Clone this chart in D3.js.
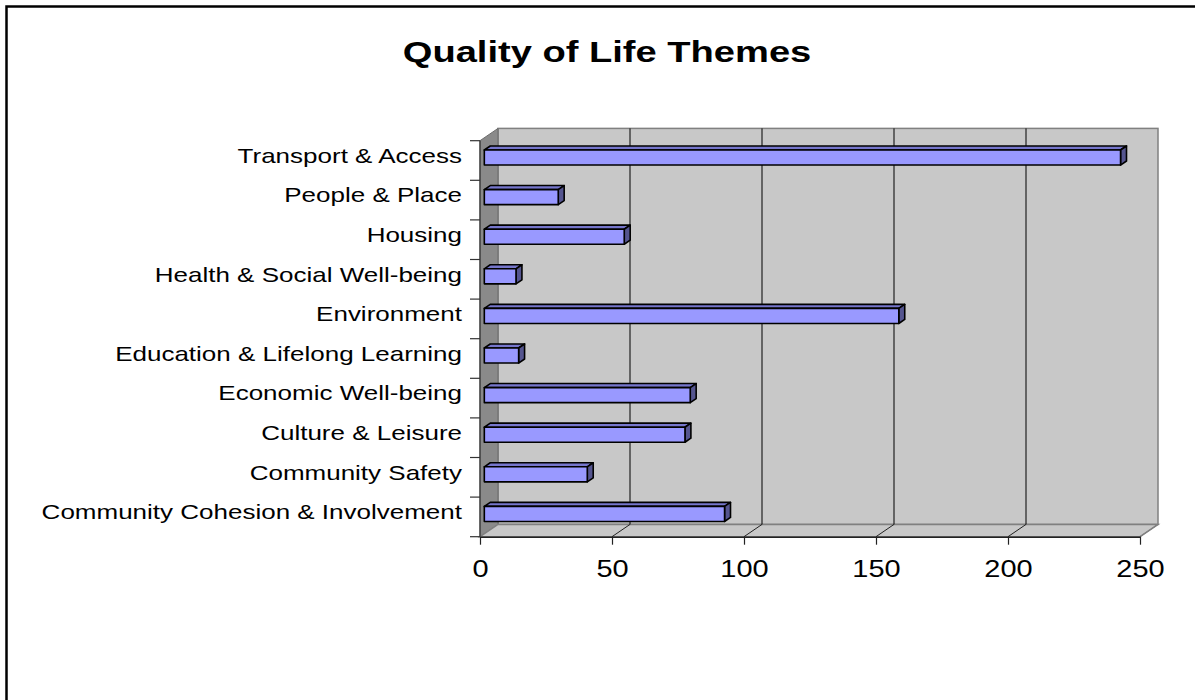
<!DOCTYPE html>
<html>
<head>
<meta charset="utf-8">
<script src="https://cdn.jsdelivr.net/npm/d3@7/dist/d3.min.js"></script>
<style>
  html, body { margin: 0; padding: 0; background: #fff; }
  svg { display: block; font-family: Arial, "Liberation Sans", sans-serif; }
</style>
</head>
<body>
<svg id="chart" width="1195" height="700"></svg>
<script>
// ---- data ----
const title = "Quality of Life Themes";
const categories = [
  "Community Cohesion & Involvement",
  "Community Safety",
  "Culture & Leisure",
  "Economic Well-being",
  "Education & Lifelong Learning",
  "Environment",
  "Health & Social Well-being",
  "Housing",
  "People & Place",
  "Transport & Access"
];
const values = [91, 39, 76, 78, 13, 157, 12, 53, 28, 241];
const xTicks = [0, 50, 100, 150, 200, 250];

// ---- layout ----
const svg = d3.select("#chart");
const W = 1195, H = 700;
const SX = 1.3;            // horizontal text stretch of the original
const front = {left: 480, right: 1140, top: 140.7, bottom: 536.7};
const DX = 18, DY = -12.3;  // depth offset (front -> back)
const barDepthStart = 0.24, barDepth = 0.33;

const x = d3.scaleLinear().domain([0, 250]).range([front.left, front.right]);
const order = categories.slice().reverse(); // top to bottom
const y = d3.scaleBand().domain(order).range([front.top, front.bottom])
  .paddingInner(0.62).paddingOuter(0.31);
const yStep = d3.scaleBand().domain(order).range([front.top, front.bottom]).padding(0);

// background & frame
svg.append("rect").attr("x", 0).attr("y", 0).attr("width", W).attr("height", H).attr("fill", "#fff");
svg.append("rect").attr("x", 6.5).attr("y", 6.5).attr("width", W + 20).attr("height", H + 20)
  .attr("fill", "none").attr("stroke", "#000").attr("stroke-width", 2.5);

// title
svg.append("text")
  .attr("transform", `translate(607,62) scale(1.27,1)`)
  .attr("text-anchor", "middle")
  .attr("font-size", 30).attr("font-weight", "bold").attr("fill", "#000")
  .text(title);

const x0 = x(0), x1 = x(250);
// back wall
svg.append("rect")
  .attr("x", x0 + DX).attr("y", front.top + DY)
  .attr("width", x1 - x0).attr("height", front.bottom - front.top)
  .attr("fill", "#c8c8c8").attr("stroke", "#808080").attr("stroke-width", 1.5);
// left wall
svg.append("polygon")
  .attr("points", [[x0, front.top], [x0 + DX, front.top + DY], [x0 + DX, front.bottom + DY], [x0, front.bottom]].join(" "))
  .attr("fill", "#8a8a8a").attr("stroke", "#6a6a6a").attr("stroke-width", 1);
// floor
svg.append("polygon")
  .attr("points", [[x0, front.bottom], [x0 + DX, front.bottom + DY], [x1 + DX, front.bottom + DY], [x1, front.bottom]].join(" "))
  .attr("fill", "#c8c8c8").attr("stroke", "#808080").attr("stroke-width", 1.5);

// gridlines on back wall and floor
xTicks.filter(t => t > 0 && t < 250).forEach(t => {
  svg.append("line")
    .attr("x1", x(t) + DX).attr("x2", x(t) + DX)
    .attr("y1", front.top + DY).attr("y2", front.bottom + DY)
    .attr("stroke", "#000").attr("stroke-width", 1);
});
xTicks.filter(t => t > 0).forEach(t => {
  svg.append("line")
    .attr("x1", x(t)).attr("y1", front.bottom)
    .attr("x2", x(t) + DX).attr("y2", front.bottom + DY)
    .attr("stroke", t === 250 ? "#808080" : "#222").attr("stroke-width", 1);
});

// bars
const bars = svg.append("g");
categories.forEach((c, i) => {
  const v = values[i];
  const ox = DX * barDepthStart, oy = DY * barDepthStart;
  const bx = DX * barDepth, by = DY * barDepth;
  const xa = x(0) + ox, xb = x(v) + ox;
  const ya = y(c) + oy, yb = y(c) + y.bandwidth() + oy;
  const g = bars.append("g").attr("stroke", "#000").attr("stroke-width", 1.6).attr("stroke-linejoin", "round");
  // top face
  g.append("polygon")
    .attr("points", [[xa, ya], [xb, ya], [xb + bx, ya + by], [xa + bx, ya + by]].join(" "))
    .attr("fill", "#7676cc");
  // side face
  g.append("polygon")
    .attr("points", [[xb, ya], [xb + bx, ya + by], [xb + bx, yb + by], [xb, yb]].join(" "))
    .attr("fill", "#55558f");
  // front face
  g.append("rect")
    .attr("x", xa).attr("y", ya).attr("width", xb - xa).attr("height", yb - ya)
    .attr("fill", "#9999ff");
});

// bottom axis
const xAxis = svg.append("g")
  .attr("transform", `translate(0,${front.bottom})`)
  .call(d3.axisBottom(x).tickValues(xTicks).tickSizeInner(8).tickSizeOuter(0).tickPadding(10));
xAxis.select(".domain").attr("stroke", "#222").attr("stroke-width", 1.5);
xAxis.selectAll(".tick line").attr("stroke", "#222").attr("stroke-width", 1.2);
xAxis.selectAll(".tick text")
  .attr("y", null).attr("dy", null)
  .attr("transform", `translate(0,40) scale(1.26,1)`)
  .attr("font-size", 23).attr("font-family", "Arial, 'Liberation Sans', sans-serif").attr("fill", "#000");

// left axis line & boundary ticks
svg.append("line")
  .attr("x1", x0).attr("x2", x0).attr("y1", front.top).attr("y2", front.bottom)
  .attr("stroke", "#333").attr("stroke-width", 1.2);
const bounds = order.map(c => yStep(c)).concat([front.bottom]);
bounds.forEach(b => {
  svg.append("line").attr("x1", x0 - 10).attr("x2", x0).attr("y1", b).attr("y2", b)
    .attr("stroke", "#333").attr("stroke-width", 1.2);
});

// category labels
const yAxis = svg.append("g")
  .attr("transform", `translate(${x0},${DY * (barDepthStart + barDepth / 2)})`)
  .call(d3.axisLeft(y).tickSize(0).tickPadding(0));
yAxis.select(".domain").remove();
yAxis.selectAll(".tick text")
  .attr("x", null).attr("dy", "0.36em")
  .attr("transform", `translate(-18,0) scale(${SX},1)`)
  .attr("font-size", 20).attr("font-family", "Arial, 'Liberation Sans', sans-serif").attr("fill", "#000");
</script>
</body>
</html>
